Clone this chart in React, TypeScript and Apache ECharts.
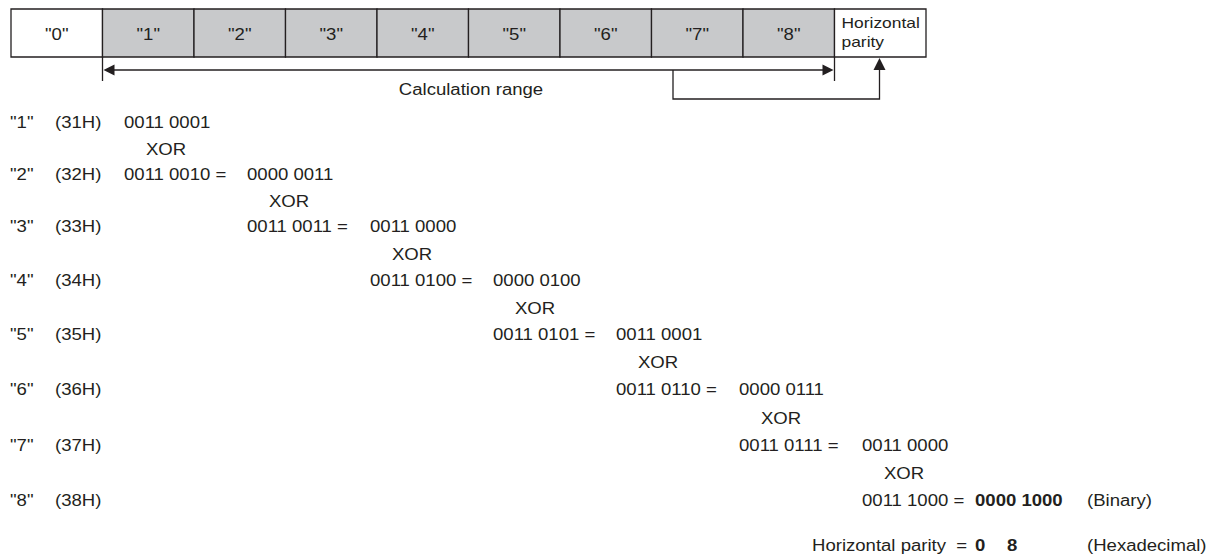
import React, { useEffect, useRef } from "react";
import * as echarts from "echarts";

// ---- data ----
const cellLabels = ['"0"', '"1"', '"2"', '"3"', '"4"', '"5"', '"6"', '"7"', '"8"'];
const parityCellLines = ["Horizontal", "parity"];
const rangeLabel = "Calculation range";
const rowChars = ['"1"', '"2"', '"3"', '"4"', '"5"', '"6"', '"7"', '"8"'];
const rowHex = ["(31H)", "(32H)", "(33H)", "(34H)", "(35H)", "(36H)", "(37H)", "(38H)"];
const rowBinary = [
  "0011 0001",
  "0011 0010",
  "0011 0011",
  "0011 0100",
  "0011 0101",
  "0011 0110",
  "0011 0111",
  "0011 1000",
];
const xorResults = [
  "0000 0011",
  "0011 0000",
  "0000 0100",
  "0011 0001",
  "0000 0111",
  "0011 0000",
  "0000 1000",
];
const xorWord = "XOR";
const binaryNote = "(Binary)";
const parityLabel = "Horizontal parity  =";
const parityHexDigits = ["0", "8"];
const hexNote = "(Hexadecimal)";

// ---- layout ----
const INK = "#231f20";
const GRAY = "#c8c9cb";
const FONT = "'Liberation Sans', Arial, Helvetica, sans-serif";
const FS = 16;
const SX = 1.16;
const BOX_X = 11;
const BOX_Y = 9;
const BOX_H = 48;
const CELL_W = 91.5;
const ROW_Y = [122, 174, 226, 280, 334, 389, 445, 500];
const XOR_Y = [149, 201, 254, 308, 362, 418, 473];
const HP_Y = 545;
const COL_X0 = 124;
const COL_STEP = 123;

function txt(text: string, x: number, y: number, o: any = {}) {
  return {
    type: "text",
    x,
    y,
    scaleX: o.sx ?? SX,
    silent: true,
    style: {
      text,
      fill: INK,
      fontFamily: FONT,
      fontSize: o.fs ?? FS,
      fontWeight: o.bold ? "bold" : "normal",
      align: o.align ?? "left",
      verticalAlign: o.va ?? "middle",
      textAlign: o.align ?? "left",
      textVerticalAlign: o.va ?? "middle",
      lineHeight: o.lh,
    },
  };
}

function line(x1: number, y1: number, x2: number, y2: number) {
  return {
    type: "line",
    silent: true,
    shape: { x1, y1, x2, y2 },
    style: { stroke: INK, lineWidth: 1.3 },
  };
}

function buildGraphic() {
  const els: any[] = [];
  // top cells
  cellLabels.forEach((lab, i) => {
    const x = BOX_X + i * CELL_W;
    els.push({
      type: "rect",
      silent: true,
      shape: { x, y: BOX_Y, width: CELL_W, height: BOX_H },
      style: { fill: i === 0 ? "#ffffff" : GRAY, stroke: INK, lineWidth: 1.3 },
    });
    els.push(txt(lab, x + CELL_W / 2, BOX_Y + BOX_H / 2 + 1, { align: "center" }));
  });
  const px = BOX_X + cellLabels.length * CELL_W;
  els.push({
    type: "rect",
    silent: true,
    shape: { x: px, y: BOX_Y, width: CELL_W, height: BOX_H },
    style: { fill: "#ffffff", stroke: INK, lineWidth: 1.3 },
  });
  els.push(txt(parityCellLines.join("\n"), px + 7, 32, { fs: 15, lh: 19 }));

  // calculation range arrow
  const rx1 = BOX_X + CELL_W;
  const rx2 = px;
  const ay = 70;
  els.push(line(rx1, BOX_Y + BOX_H, rx1, 81));
  els.push(line(rx2, BOX_Y + BOX_H, rx2, 81));
  els.push(line(rx1 + 8, ay, rx2 - 8, ay));
  els.push({
    type: "polygon",
    silent: true,
    shape: { points: [[rx1 + 1, ay], [rx1 + 12, ay - 5.5], [rx1 + 12, ay + 5.5]] },
    style: { fill: INK },
  });
  els.push({
    type: "polygon",
    silent: true,
    shape: { points: [[rx2 - 1, ay], [rx2 - 12, ay - 5.5], [rx2 - 12, ay + 5.5]] },
    style: { fill: INK },
  });
  els.push(txt(rangeLabel, 471, 89, { align: "center" }));

  // bracket to parity cell
  const bx1 = 673;
  const bx2 = px + 45;
  els.push({
    type: "polyline",
    silent: true,
    shape: { points: [[bx1, ay], [bx1, 99], [bx2, 99], [bx2, 68]] },
    style: { stroke: INK, lineWidth: 1.3, fill: "none" },
  });
  els.push({
    type: "polygon",
    silent: true,
    shape: { points: [[bx2, BOX_Y + BOX_H + 1], [bx2 - 6, 70], [bx2 + 6, 70]] },
    style: { fill: INK },
  });

  // rows
  const colX = (i: number) => COL_X0 + COL_STEP * i;
  rowChars.forEach((c, r) => {
    const y = ROW_Y[r];
    els.push(txt(c, 10, y));
    els.push(txt(rowHex[r], 55, y));
    const bx = colX(Math.max(0, r - 1));
    els.push(txt(r === 0 ? rowBinary[r] : rowBinary[r] + " =", bx, y));
    if (r >= 1 && r <= 6) {
      els.push(txt(xorResults[r - 1], colX(r), y));
    }
    if (r < 7) {
      const xx = r === 0 ? colX(0) : colX(r);
      els.push(txt(xorWord, xx + 42, XOR_Y[r], { align: "center" }));
    }
  });
  // final row result
  els.push(txt(xorResults[6], 975, ROW_Y[7], { bold: true }));
  els.push(txt(binaryNote, 1087, ROW_Y[7]));
  els.push(txt(parityLabel, 812, HP_Y));
  els.push(txt(parityHexDigits[0], 975, HP_Y, { bold: true }));
  els.push(txt(parityHexDigits[1], 1007, HP_Y, { bold: true }));
  els.push(txt(hexNote, 1087, HP_Y));
  return els;
}

export default function App() {
  const ref = useRef<HTMLDivElement>(null);
  useEffect(() => {
    document.body.style.margin = "0";
    document.body.style.overflow = "hidden";
    if (!ref.current) return;
    const chart = echarts.init(ref.current, undefined, { renderer: "svg" });
    chart.setOption({
      animation: false,
      backgroundColor: "#ffffff",
      graphic: { elements: buildGraphic() },
    });
    return () => chart.dispose();
  }, []);
  return <div ref={ref} style={{ width: 1209, height: 554 }} />;
}
